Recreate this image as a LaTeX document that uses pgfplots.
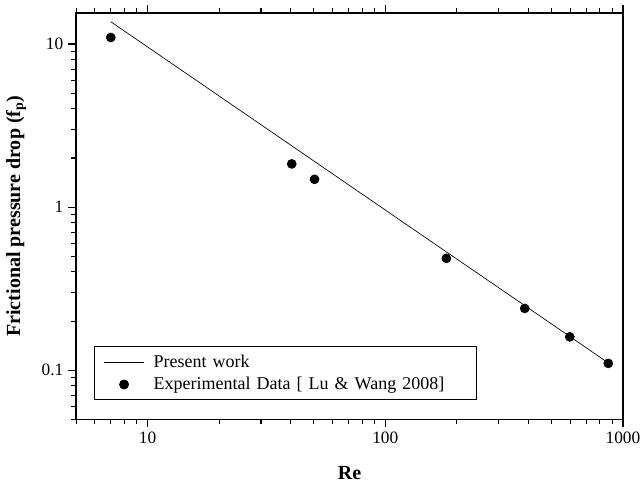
\documentclass[border=0pt]{standalone}
\usepackage{pgfplots}
\pgfplotsset{compat=1.18}
\usepackage{fontspec}
\setmainfont{Liberation Serif}
\begin{document}
\begin{tikzpicture}
\begin{axis}[
  scale only axis,
  width=410pt, height=304.5pt,
  xmode=log, ymode=log,
  xmin=5, xmax=1000, ymin=0.05, ymax=15.5,
  xtick={10,100,1000}, xticklabels={10,100,1000},
  ytick={0.1,1,10}, yticklabels={0.1,1,10},
  minor xtick={5,6,7,8,9,20,30,40,50,60,70,80,90,200,300,400,500,600,700,800,900},
  minor ytick={0.05,0.06,0.07,0.08,0.09,0.2,0.3,0.4,0.5,0.6,0.7,0.8,0.9,2,3,4,5,6,7,8,9},
  tick align=outside,
  xtick pos=both, ytick pos=left,
  major tick length=6pt, minor tick length=3.5pt,
  tick style={black, line width=0.8pt},
  axis line style={line width=1pt},
  xticklabel pos=bottom, yticklabel pos=left,
  ticklabel style={font=\fontsize{13}{15}\selectfont},
  /pgf/number format/assume math mode=true,
  xlabel={\textbf{Re}},
  ylabel={\textbf{Frictional pressure drop (f\textsubscript{p})}},
  label style={font=\fontsize{15}{17}\selectfont},
  xlabel style={at={([yshift=-40.5pt]rel axis cs:0.5,0)}, anchor=center},
  ylabel style={at={([xshift=-45pt]rel axis cs:0,0.5)}, anchor=center},
  legend style={at={(0.033,0.047)}, anchor=south west, draw=black, line width=0.6pt,
    font=\fontsize{13.5}{15}\selectfont, row sep=2pt, column sep=5pt,
    inner xsep=7pt, inner ysep=4pt, text width=233pt},
  legend cell align=left,
  legend image code/.code={\draw[#1] (0cm,0cm) -- (1.05cm,0cm);},
]
\addplot[black, line width=0.5pt, no marks] coordinates {
  (7,13.71) (40,2.4) (50,1.92) (180,0.533) (386,0.249) (597,0.161) (867,0.1107)
};
\addlegendentry{Present work}
\addplot[only marks, mark=*, mark size=3.4pt, black,
  legend image code/.code={\draw plot[mark=*, mark size=3.4pt] coordinates {(0.525cm,0cm)};}]
  coordinates {
  (7,10.97) (40.4,1.84) (50.4,1.48) (180.7,0.485) (386,0.239) (597,0.160) (867,0.110)
};
\addlegendentry{Experimental Data [ Lu \& Wang 2008]}
\coordinate (sw) at (rel axis cs:0,0);
\coordinate (ne) at (rel axis cs:1,1);
\end{axis}
\pgfresetboundingbox
\path ([xshift=-57pt,yshift=-48pt]sw) rectangle ([xshift=14.25pt,yshift=9.75pt]ne);
\end{tikzpicture}
\end{document}
